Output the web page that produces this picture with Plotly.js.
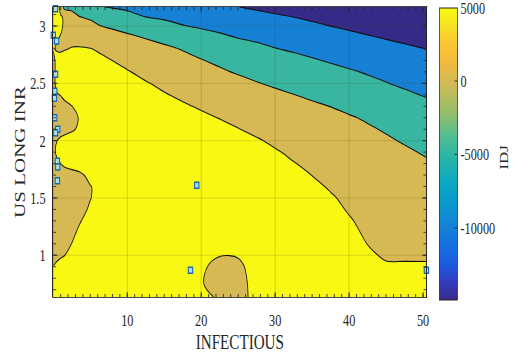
<!DOCTYPE html>
<html>
<head>
<meta charset="utf-8">
<script src="https://cdn.plot.ly/plotly-3.0.1.min.js"></script>
<style>
html,body{margin:0;padding:0;overflow:hidden;background:#fff;}
#chart{width:715px;height:360px;transform:scaleX(0.72028);transform-origin:0 0;}
</style>
</head>
<body>
<div id="chart"></div>
<script>
// grid of INFECTIOUS (x) and US LONG INR (y) and the estimated DJI surface
const infectious = [0,0.5,1,1.5,2.5,3.5,5,6.5,8,10,12.5,15,17.5,20,22.5,25,27.5,30,32.5,35,37.5,40,42.5,45,47.5,50.45];
const usLongInr = [0.636,0.75,0.9,1.0,1.1,1.2,1.3,1.4,1.5,1.6,1.7,1.8,1.9,2.0,2.1,2.2,2.3,2.4,2.5,2.6,2.7,2.8,2.9,3.0,3.08,3.166];
const dji = [
 [6000,6000,6000,6000,6000,6000,6000,6000,6000,6000,6000,6000,6000,5800,4600,4600,5350,6000,6000,6000,6000,6000,6000,5900,5800,5700],
 [5500,5800,6000,6000,6000,6000,6000,6000,6000,6000,6000,6000,6000,5100,4400,4500,5500,6000,6000,6000,6000,6000,5900,5600,5500,5450],
 [5050,5500,5900,6000,6000,6000,6000,6000,6000,6000,6000,6000,6000,5200,4600,4700,5600,6000,6000,6000,6000,5800,5550,5250,5250,5250],
 [4200,4450,4700,4960,5500,5900,6000,6000,6000,6000,6000,6000,6000,5800,5050,5100,5800,6000,6000,6000,6000,6000,5310,4750,4720,4700],
 [3900,4100,4300,4550,5020,5600, 6000,6000,6000,6000,6000, 6000,6000,6000,6000,6000, 6000,6000,6000,6000,6000, 5620,4970,4320,3670,2900],
 [3700,3850,4000,4200,4650,5250,5900, 6000,6000,6000,6000,6000, 6000,6000,6000,6000,6000, 6000,6000,6000,6000, 5390,4740,4090,3440,2670],
 [3500,3600,3750,3900,4300,4850,5600, 6000,6000,6000,6000,6000, 6000,6000,6000,6000,6000, 6000,6000,6000, 5800,5160,4510,3860,3200,2440],
 [3300,3400,3500,3650,4000,4500,5200,5800, 6000,6000,6000,6000,6000, 6000,6000,6000,6000,6000, 6000,6000, 5500,4840,4200,3550,2900,2140],
 [3100,3200,3300,3450,3750,4150,4950,5500, 6000,6000,6000,6000,6000, 6000,6000,6000,6000,6000, 6000, 5860,5210,4560,3910,3260,2610,1840],
 [3200,3300,3400,3500,3800,4200,4930,5500, 6000,6000,6000,6000,6000, 6000,6000,6000,6000,6000, 6000, 5440,4790,4140,3490,2840,2190,1420],
 [3500,3600,3700,3800,4100,4600,5500, 6000,6000,6000,6000,6000, 6000,6000,6000,6000,6000, 6000, 5620,4970,4320,3670,3020,2370,1720,950],
 [4300,4600,5020,5500, 6000,6000,6000,6000,6000, 6000,6000,6000,6000,6000, 6000,6000,6000, 5760,5100,4450,3790,3130,2470,1820,1160,390],
 [4500,5400,5800, 6000,6000,6000,6000,6000, 6000,6000,6000,6000,6000, 6000,6000,6000, 5900,5220,4540,3860,3180,2500,1820,1140,460,-340],
 [4500,4980,5500,5800, 6000,6000,6000,6000,6000, 6000,6000,6000,6000,6000, 6000, 5940,5250,4560,3870,3180,2490,1800,1100,410,-280,-1090],
 [3600,3800,4000,4200,4700,5300,5900, 6000,6000,6000,6000,6000, 6000,6000, 5750,5080,4410,3740,3070,2390,1720,1050,380,-300,-970,-1760],
 [3300,3500,3700,3900,4400,5100,5800, 6000,6000,6000,6000,6000, 6000, 5550,4900,4240,3590,2930,2280,1620,970,310,-390,-1140,-1890,-2780],
 [3800,4000,4200,4450,4970,5500, 6000,6000,6000,6000,6000, 6000, 5350,4680,4000,3320,2650,1970,1300,620,-60,-830,-1600,-2360,-3130,-4030],
 [4300,4850,5080,5500, 6000,6000,6000,6000,6000, 6000, 5940,5200,4470,3740,3000,2260,1530,790,60,-690,-1430,-2180,-2920,-3660,-4400,-5300],
 [4400,5600, 6000,6000,6000,6000,6000, 6000,6000,6000, 5200,4360,3520,2680,1850,1010,170,-570,-1290,-2010,-2730,-3450,-4170,-4890,-5600,-6400],
 [4400,5600, 6000,6000,6000,6000,6000, 6000, 5940,5190,4250,3310,2370,1430,490,-340,-1060,-1770,-2490,-3200,-3910,-4630,-5300,-5850,-6400,-7000],
 [4600,5500,5800,6000,6000,6000,6000,5600,4980,4190,3180,2180,1170,160,-670,-1460,-2260,-3060,-3860,-4650,-5350,-5970,-6600,-7220,-7850,-8600],
 [5100,4850,4700,4850,5150,5300,5130,4480,3840,2970,1900,820,-220,-1150,-2070,-3000,-3930,-4850,-5520,-6150,-6770,-7390,-8000,-8650,-9270,-10020],
 [5350,5130,4900,4680,4230,3780,3100,2430,1760,860,-240,-1230,-2220,-3210,-4210,-5130,-5770,-6410,-7050,-7690,-8330,-8970,-9620,-10260,-10900,-11650],
 [6200,5740,5260,4780,3820,2870,1430,-20,-660,-1540,-2630,-3730,-4820,-5540,-6170,-6810,-7450,-8090,-8720,-9360,-10020,-10640,-11300,-11900,-12600,-13300],
 [7400,6450,5440,4430,2410,120,-740,-1590,-2440,-3580,-5020,-5630,-6260,-6890,-7530,-8160,-8790,-9420,-10050,-10680,-11300,-11900,-12500,-13100,-13600,-14200],
 [8000,7700,3200,-1400,-1600,-2300,-3500,-4850,-5330,-5870,-6550,-7230,-7900,-8600,-9270,-9950,-10600,-11300,-12000,-12700,-13300,-14000,-14400,-14700,-14900,-15000]
];
// sample points
const pointsInfectious = [0.3,0.0,0.45,0.3,0.2,0.15,0.2,0.6,0.3,0.55,0.6,0.55,19.4,18.55,20.55,50.45];
const pointsInr = [3.15,2.92,2.87,2.58,2.43,2.37,2.20,2.10,2.07,1.82,1.77,1.65,1.61,0.87,0.63,0.87];
// contour levels & colour bar
const levelStart = -10000, levelEnd = 5000, levelStep = 5000;
const cbMin = -14900, cbMax = 5010;
const cbTicks = [-10000,-5000,0,5000];
const cbTickText = ['-10000','-5000','0','5000'];
const cbTitle = 'IDJ';
const xTicks = [10,20,30,40,50];
const yTicks = [1,1.5,2,2.5,3];

const navy='rgb(53,42,135)', blue='rgb(22,128,212)', teal='rgb(56,182,160)', tan='rgb(215,185,84)', yellow='rgb(248,248,18)';
const bandScale = [[0,navy],[0.25,blue],[0.5,teal],[0.75,tan],[1,yellow]];
const parula = [
 [0,'rgb(53,42,135)'],[0.06,'rgb(50,60,190)'],[0.12,'rgb(30,90,225)'],[0.19,'rgb(20,113,225)'],
 [0.25,'rgb(20,130,214)'],[0.32,'rgb(10,150,205)'],[0.40,'rgb(10,168,195)'],[0.50,'rgb(45,183,165)'],
 [0.57,'rgb(90,190,140)'],[0.63,'rgb(140,190,110)'],[0.69,'rgb(180,188,95)'],[0.75,'rgb(214,186,85)'],
 [0.82,'rgb(245,186,60)'],[0.88,'rgb(252,198,50)'],[0.94,'rgb(245,225,35)'],[1,'rgb(249,251,14)']
];
const ink = '#262626';
const serif = 'Liberation Serif, Times New Roman, serif';

const traces = [
 {type:'heatmap', x:infectious, y:usLongInr, z:dji, zmin:cbMin, zmax:cbMax, colorscale:parula,
  opacity:0, hoverinfo:'skip', showscale:true,
  colorbar:{x:1.0338, xanchor:'left', xpad:0, y:0.998, yanchor:'top', ypad:0,
    lenmode:'pixels', len:292, thicknessmode:'pixels', thickness:25,
    outlinewidth:1, outlinecolor:ink, ticks:'inside', ticklen:4, tickcolor:ink,
    tickmode:'array', tickvals:cbTicks, ticktext:cbTickText, ticklabeloverflow:'allow',
    tickfont:{family:serif, size:17, color:ink}}},
 {type:'contour', x:infectious, y:usLongInr, z:dji, autocontour:false,
  contours:{start:levelStart, end:levelEnd, size:levelStep, coloring:'fill', showlines:true},
  colorscale:bandScale, showscale:false, line:{color:'#111', width:1.1, smoothing:1}, hoverinfo:'skip'},
 {type:'scatter', mode:'markers', x:pointsInfectious, y:pointsInr, cliponaxis:false,
  marker:{symbol:'square', size:6, color:'rgb(172,222,222)', line:{color:'rgb(22,105,185)', width:1.5}}}
];

const shapes = [];
xTicks.slice(0,4).forEach(v=>shapes.push({type:'line', xref:'x', yref:'paper', x0:v, x1:v, y0:0, y1:1, layer:'above', line:{color:'rgba(70,70,20,0.2)', width:1.4}}));
yTicks.forEach(v=>shapes.push({type:'line', xref:'paper', yref:'y', x0:0, x1:1, y0:v, y1:v, layer:'above', line:{color:'rgba(70,70,20,0.2)', width:1}}));

const layout = {
 width:715, height:360, showlegend:false,
 margin:{l:74, r:123, t:7, b:63},
 paper_bgcolor:'#fff', plot_bgcolor:'#fff',
 font:{family:serif, size:17, color:ink},
 shapes:shapes,
 annotations:[{text:cbTitle, xref:'paper', yref:'paper', x:1.2097, y:0.483, xanchor:'center', yanchor:'middle',
   textangle:-90, showarrow:false, font:{family:serif, size:17, color:ink}}],
 xaxis:{range:[0,50.45], tickmode:'array', tickvals:xTicks, ticks:'inside', ticklen:5, tickcolor:ink,
   showline:true, linecolor:ink, linewidth:1, mirror:'ticks', showgrid:false, zeroline:false,
   ticklabelstandoff:8,
   minor:{tickmode:'linear', tick0:0, dtick:1, ticks:'inside', ticklen:3, tickcolor:ink, showgrid:false},
   tickfont:{family:serif, size:17, color:ink},
   title:{text:'INFECTIOUS', font:{family:serif, size:21, color:ink}, standoff:4}},
 yaxis:{range:[0.636,3.166], tickmode:'array', tickvals:yTicks, ticks:'inside', ticklen:6, tickcolor:ink,
   showline:true, linecolor:ink, linewidth:1.4, mirror:'ticks', showgrid:false, zeroline:false,
   ticklabelstandoff:6,
   minor:{tickmode:'linear', tick0:0, dtick:0.1, ticks:'inside', ticklen:4, tickcolor:ink, showgrid:false},
   tickfont:{family:serif, size:17, color:ink},
   title:{text:'US LONG INR', font:{family:serif, size:21, color:ink}, standoff:0}}
};

Plotly.newPlot('chart', traces, layout, {displayModeBar:false, staticPlot:true});
</script>
</body>
</html>
